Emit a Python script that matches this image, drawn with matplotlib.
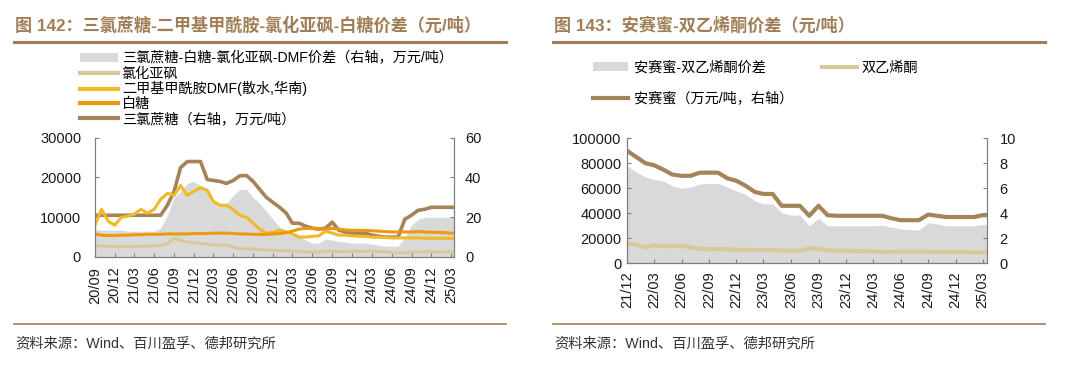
import numpy as np
import pandas as pd
import matplotlib
matplotlib.use('Agg')
import matplotlib.pyplot as plt
import matplotlib.dates as mdates
from matplotlib.patches import Patch
from matplotlib.lines import Line2D

plt.rcParams['font.family'] = ['Liberation Sans', 'Noto Sans CJK SC']

# ---- chart 142 data (monthly, from 2020/09) ----
dates_a = pd.date_range('2020-09-01', periods=56, freq='MS')
# 三氯蔗糖-白糖-氯化亚砜-DMF价差, right axis (万元/吨)
spread_a = [14, 13.5, 13.5, 13.5, 13.5, 13, 13, 13, 13, 13, 14.5, 21, 30, 33, 37, 38,
            36, 33, 28.5, 27, 27, 31, 34, 34, 30, 27, 23, 19, 15, 11.5, 11, 10,
            8.5, 7, 7, 9, 8.5, 7.8, 7.5, 7, 7, 7, 6.5, 6, 5.5, 5.5, 5.5, 10,
            16, 19, 20, 20, 20, 20, 20, 20]
# 三氯蔗糖, right axis (万元/吨)
sucralose = [21, 21, 21, 21, 21, 21, 21, 21, 21, 21, 21, 26, 33, 45, 48, 48,
             48, 39, 38.5, 38, 37, 38.5, 40.8, 41, 38, 34, 30, 27.5, 25, 22, 17, 17,
             15.5, 14.5, 14, 14.5, 17.5, 13.5, 12.5, 12, 12, 12, 11, 10.5, 10, 10, 10, 19,
             21, 23.5, 24, 25, 25, 25, 25, 25]
# 二甲基甲酰胺DMF (元/吨)
dmf = [8000, 12000, 9000, 8000, 10000, 10300, 10800, 12000, 11000, 12000, 14500, 16000,
       15500, 18000, 15500, 16500, 17400, 16800, 14000, 13000, 13000, 12000, 10500, 10000,
       8500, 7000, 6000, 6200, 6800, 6300, 5800, 5000, 5000, 5200, 5300, 6500,
       6000, 5500, 5500, 5300, 5200, 5200, 5000, 5000, 4900, 4800, 4800, 4800,
       4800, 4800, 4700, 4700, 4700, 4700, 4700, 4700]
# 白糖 (元/吨)
sugar = [5800, 5500, 5400, 5400, 5500, 5500, 5600, 5600, 5700, 5700, 5700, 5800,
         5800, 5800, 5800, 5900, 5900, 5900, 6000, 6000, 6000, 5900, 5800, 5800,
         5700, 5700, 5700, 5800, 5900, 6100, 6500, 7000, 7200, 7200, 7200, 7000,
         7200, 7000, 6800, 6700, 6700, 6700, 6600, 6500, 6400, 6300, 6300, 6300,
         6300, 6400, 6300, 6200, 6200, 6100, 6000, 6000]
# 氯化亚砜 (元/吨)
socl2 = [2900, 2800, 2700, 2600, 2600, 2600, 2600, 2700, 2700, 2800, 2900, 3300,
         4700, 4200, 3800, 3600, 3400, 3300, 3000, 3000, 3000, 2500, 2100, 2000,
         2000, 1900, 1700, 1700, 1600, 1600, 1500, 1400, 1300, 1200, 1200, 1500,
         1400, 1400, 1400, 1400, 1400, 1400, 1500, 1400, 1300, 1100, 1000, 1100,
         1200, 1300, 1300, 1300, 1300, 1300, 1300, 1300]

# ---- chart 143 data (monthly, from 2021/12) ----
dates_b = pd.date_range('2021-12-01', periods=41, freq='MS')
# 安赛蜜 (万元/吨, right axis)
ace = [9.0, 8.5, 8.0, 7.85, 7.5, 7.1, 7.0, 7.0, 7.25, 7.25, 7.25, 6.8, 6.6, 6.2,
       5.7, 5.55, 5.55, 4.6, 4.6, 4.6, 3.8, 4.6, 3.85, 3.8, 3.8, 3.8, 3.8, 3.8,
       3.8, 3.6, 3.45, 3.45, 3.45, 3.9, 3.8, 3.7, 3.7, 3.7, 3.7, 3.85, 3.85]
# 双乙烯酮 (元/吨)
diketene = [16000, 15000, 12500, 14500, 13500, 13800, 14000, 12800, 11500, 11200, 11500,
            11200, 10800, 10800, 10700, 10600, 10500, 10200, 10000, 10000, 12000, 11500,
            10200, 10100, 10000, 9800, 9700, 9500, 9200, 9200, 9300, 9300, 9400, 9200,
            9100, 9000, 9000, 8900, 8800, 8800, 8800]
# 安赛蜜-双乙烯酮价差 (元/吨)
spread_b = [78000, 73000, 69000, 67000, 66000, 62000, 60000, 61000, 63500, 64000, 64000,
            61000, 58000, 55000, 50000, 47500, 47500, 40500, 38500, 38500, 30000, 36000,
            30000, 30000, 30000, 30000, 30000, 30000, 30500, 29000, 27500, 27000, 26500,
            32500, 31500, 30000, 30000, 30000, 30000, 31000, 31000]

titles = ['图 142：三氯蔗糖-二甲基甲酰胺-氯化亚砜-白糖价差（元/吨）',
          '图 143：安赛蜜-双乙烯酮价差（元/吨）']
source = '资料来源：Wind、百川盈孚、德邦研究所'

GRAY = '#d9d9d9'
TAN = '#d8c89c'
YELLOW = '#f0b928'
ORANGE = '#ee9812'
BROWN = '#a5845a'
HEAD = '#a07f58'
AXC = '#7f7f7f'

W, H = 1080, 369
fig = plt.figure(figsize=(W / 100, H / 100), dpi=100)


def fx(px):
    return px / W


def fy(py):
    return 1 - py / H


def style_axes(ax, ax2, lpad, rpad, xpad):
    for a in (ax, ax2):
        a.spines['top'].set_visible(False)
        for s in ('left', 'right', 'bottom'):
            a.spines[s].set_color(AXC)
            a.spines[s].set_linewidth(0.8)
        a.tick_params(direction='in', length=3, width=0.8, color=AXC,
                      labelsize=10.5, labelcolor='#1a1a1a')
    ax.tick_params(axis='y', pad=lpad)
    ax2.tick_params(axis='y', pad=rpad)
    ax.tick_params(axis='x', pad=xpad, labelrotation=90)
    ax.xaxis.set_major_locator(mdates.MonthLocator(bymonth=[3, 6, 9, 12]))
    ax.xaxis.set_major_formatter(mdates.DateFormatter('%y/%m'))


# ---------- left chart ----------
axL = fig.add_axes([fx(95), fy(257), fx(454 - 95), (257 - 137.7) / H])
axL2 = axL.twinx()
axL.set_zorder(axL2.get_zorder() + 1)
axL.patch.set_visible(False)

axL2.fill_between(dates_a, 0, spread_a, color=GRAY, lw=0)
axL2.plot(dates_a, sucralose, color=BROWN, lw=2.6)
axL.plot(dates_a, socl2, color=TAN, lw=2.2)
axL.plot(dates_a, dmf, color=YELLOW, lw=2.2)
axL.plot(dates_a, sugar, color=ORANGE, lw=2.2)

axL.set_ylim(0, 30000)
axL.set_yticks([0, 10000, 20000, 30000])
axL2.set_ylim(0, 60)
axL2.set_yticks([0, 20, 40, 60])
axL.set_xlim(dates_a[0], pd.Timestamp('2025-03-16'))
style_axes(axL, axL2, 10, 8, 7)

legL = [Patch(facecolor=GRAY, edgecolor='none'),
        Line2D([], [], color=TAN, lw=3),
        Line2D([], [], color=YELLOW, lw=3),
        Line2D([], [], color=ORANGE, lw=3),
        Line2D([], [], color=BROWN, lw=3)]
labL = ['三氯蔗糖-白糖-氯化亚砜-DMF价差（右轴，万元/吨）', '氯化亚砜',
        '二甲基甲酰胺DMF(散水,华南)', '白糖', '三氯蔗糖（右轴，万元/吨）']
fig.legend(legL, labL, loc='upper left', bbox_to_anchor=(fx(80), fy(51.5)),
           frameon=False, fontsize=10.2, borderpad=0, borderaxespad=0,
           handlelength=2.7, handletextpad=0.25, labelspacing=0.055,
           handleheight=0.6)

# ---------- right chart ----------
axR = fig.add_axes([fx(627), fy(263.3), fx(987 - 627), (263.3 - 138.3) / H])
axR2 = axR.twinx()
axR.fill_between(dates_b, 0, spread_b, color=GRAY, lw=0)
axR.plot(dates_b, diketene, color=TAN, lw=3.0)
axR2.plot(dates_b, ace, color=BROWN, lw=3.0)

axR.set_ylim(0, 100000)
axR.set_yticks(np.arange(0, 100001, 20000))
axR2.set_ylim(0, 10)
axR2.set_yticks(np.arange(0, 11, 2))
axR.set_xlim(dates_b[0], pd.Timestamp('2025-03-16'))
style_axes(axR, axR2, 4, 9, 6)

fig.legend([Patch(facecolor=GRAY, edgecolor='none'),
            Line2D([], [], color=BROWN, lw=3)],
           ['安赛蜜-双乙烯酮价差', '安赛蜜（万元/吨，右轴）'],
           loc='upper left', bbox_to_anchor=(fx(593), fy(60.5)),
           frameon=False, fontsize=10.2, borderpad=0, borderaxespad=0,
           handlelength=2.5, handletextpad=0.4, labelspacing=1.2,
           handleheight=0.6)
fig.legend([Line2D([], [], color=TAN, lw=3)], ['双乙烯酮'],
           loc='upper left', bbox_to_anchor=(fx(822), fy(60.5)),
           frameon=False, fontsize=10.2, borderpad=0, borderaxespad=0,
           handlelength=2.5, handletextpad=0.3)

# ---------- titles, rules and sources ----------
for x0, x1, title in [(14, 506, titles[0]), (553, 1045, titles[1])]:
    fig.text(fx(x0 + 1), fy(25), title, fontsize=12.3, fontweight='bold',
             color=HEAD, va='center', ha='left')
    fig.add_artist(Line2D([fx(x0), fx(x1)], [fy(42), fy(42)], color=HEAD, lw=2.2))
    fig.add_artist(Line2D([fx(x0), fx(x1)], [fy(324), fy(324)], color=HEAD, lw=1.2))
    fig.text(fx(x0 + 1), fy(344), source, fontsize=10.3, color='#333333',
             va='center', ha='left')

fig.savefig('out.png', dpi=100)
